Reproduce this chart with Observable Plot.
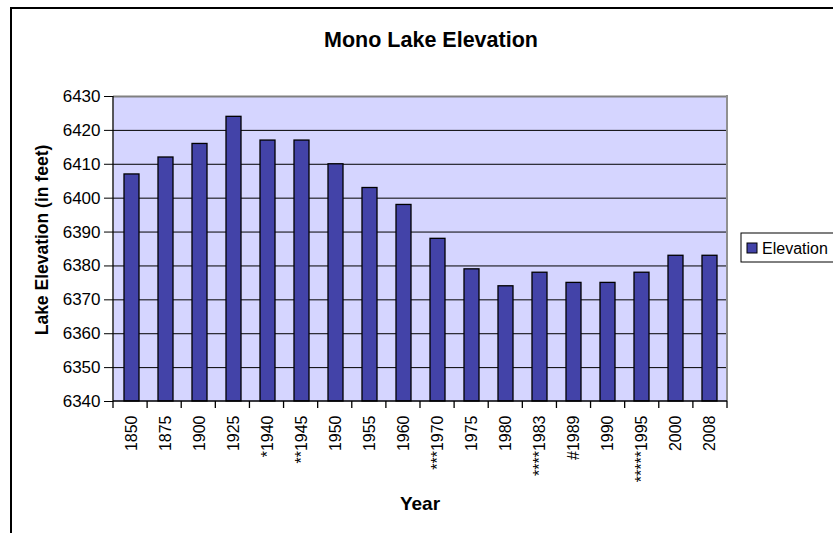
<!DOCTYPE html>
<html>
<head>
<meta charset="utf-8">
<script src="https://cdn.jsdelivr.net/npm/d3@7"></script>
<script src="https://cdn.jsdelivr.net/npm/@observablehq/plot@0.6"></script>
<style>
  html, body { margin: 0; padding: 0; background: #fff; }
  #chart { position: relative; width: 833px; height: 533px; overflow: hidden; }
  svg { font-family: "Liberation Sans", Arial, sans-serif; }
  g[aria-label="y-axis tick label"] text { font-size: 17px; }
  g[aria-label="x-axis tick label"] text { font-size: 16px; }
</style>
</head>
<body>
<div id="chart"></div>
<script>
const years = ["1850","1875","1900","1925","*1940","**1945","1950","1955","1960","***1970","1975","1980","****1983","#1989","1990","*****1995","2000","2008"];
const elevations = [6407,6412,6416,6424,6417,6417,6410,6403,6398,6388,6379,6374,6378,6375,6375,6378,6383,6383];
const yDomain = [6340, 6430];
const yTicks = [6340,6350,6360,6370,6380,6390,6400,6410,6420,6430];
const gridTicks = yTicks.filter(t => t > yDomain[0] && t < yDomain[1]);

const data = years.map((y, i) => ({year: y, elev: elevations[i], base: yDomain[0]}));

(function () {
const W = 833, H = 533;
const plot = Plot.plot({
  width: W,
  height: H,
  marginLeft: 113,
  marginRight: 106,
  marginTop: 96,
  marginBottom: 132,
  style: {fontFamily: "'Liberation Sans', Arial, sans-serif", color: "#000", background: "white", overflow: "visible"},
  x: {type: "band", domain: years, paddingInner: 0.56, paddingOuter: 0.28, label: null, axis: null},
  y: {domain: yDomain, label: null, axis: null},
  marks: [
    Plot.frame({fill: "#d5d5ff", stroke: null}),
    Plot.ruleY(gridTicks, {stroke: "#000", strokeWidth: 1}),
    Plot.ruleY([yDomain[1]], {stroke: "#808080", strokeWidth: 2}),
    Plot.barY(data, {x: "year", y1: "base", y2: "elev", fill: "#4343a8", stroke: "#000", strokeWidth: 1.3}),
    Plot.axisY({ticks: yTicks, tickSize: 9, tickPadding: 4, anchor: "left", tickFormat: d => String(d)}),
    Plot.axisX({anchor: "bottom", tickSize: 0, tickRotate: -90, tickPadding: 14, textAnchor: "end"}),
  ]
});

document.getElementById("chart").appendChild(plot);

const svg = d3.select(plot);
const ys = plot.scale("y");
const pLeft = 113, pRight = W - 106, pTop = ys.apply(yDomain[1]), pBottom = ys.apply(yDomain[0]);

svg.append("line").attr("x1", pRight).attr("x2", pRight).attr("y1", pTop - 1).attr("y2", pBottom)
  .attr("stroke", "#909090").attr("stroke-width", 2);
svg.append("line").attr("x1", pLeft).attr("x2", pLeft).attr("y1", pTop).attr("y2", pBottom)
  .attr("stroke", "#000").attr("stroke-width", 1.3);
svg.append("line").attr("x1", pLeft).attr("x2", pRight).attr("y1", pBottom).attr("y2", pBottom)
  .attr("stroke", "#000").attr("stroke-width", 1.3);
const nb = years.length;
for (let i = 0; i <= nb; i++) {
  const tx = pLeft + (pRight - pLeft) * i / nb;
  svg.append("line").attr("x1", tx).attr("x2", tx).attr("y1", pBottom).attr("y2", pBottom + 7)
    .attr("stroke", "#000").attr("stroke-width", 1.3);
}

svg.append("rect").attr("x", 11).attr("y", 8).attr("width", W).attr("height", H)
  .attr("fill", "none").attr("stroke", "#000").attr("stroke-width", 2);

svg.append("text").attr("x", 431).attr("y", 47).attr("text-anchor", "middle")
  .attr("font-size", 21.5).attr("font-weight", "bold").text("Mono Lake Elevation");
svg.append("text").attr("x", 420).attr("y", 510).attr("text-anchor", "middle")
  .attr("font-size", 19).attr("font-weight", "bold").text("Year");
svg.append("text").attr("transform", `translate(48,240) rotate(-90)`)
  .attr("text-anchor", "middle").attr("font-size", 17.5).attr("font-weight", "bold")
  .text("Lake Elevation (in feet)");

const lg = svg.append("g");
lg.append("rect").attr("x", 741).attr("y", 233).attr("width", 120).attr("height", 29)
  .attr("fill", "#fff").attr("stroke", "#000").attr("stroke-width", 1);
lg.append("rect").attr("x", 747).attr("y", 243).attr("width", 10).attr("height", 10)
  .attr("fill", "#4343a8").attr("stroke", "#000").attr("stroke-width", 1);
lg.append("text").attr("x", 762).attr("y", 254).attr("text-anchor", "start").attr("font-size", 16).text("Elevation");
})();
</script>
</body>
</html>
